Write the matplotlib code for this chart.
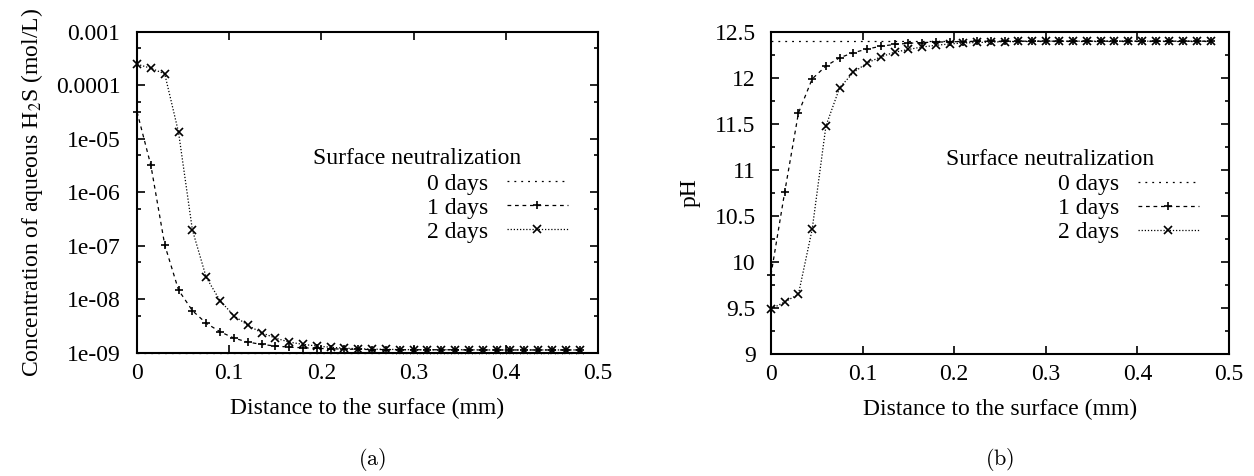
import numpy as np
import matplotlib
matplotlib.use('Agg')
import matplotlib.pyplot as plt
from matplotlib.ticker import FixedLocator, FuncFormatter, MultipleLocator

plt.rcParams['font.family'] = ['Liberation Serif', 'DejaVu Serif']
plt.rcParams['mathtext.fontset'] = 'stix'
plt.rcParams['font.size'] = 17

# distance to the surface (mm), 33 grid points
dist = [0.0, 0.015, 0.03, 0.045, 0.06, 0.075, 0.09, 0.105, 0.12, 0.135, 0.15,
        0.165, 0.18, 0.195, 0.21, 0.225, 0.24, 0.255, 0.27, 0.285, 0.30,
        0.315, 0.33, 0.345, 0.36, 0.375, 0.39, 0.405, 0.42, 0.435, 0.45,
        0.465, 0.48]
labels = ['0 days', '1 days', '2 days']

# aqueous H2S (mol/L)
h2s_0d = [1.0e-9] * 33
h2s_1d = [3.2e-5, 3.2e-6, 1.05e-7, 1.5e-8, 6.2e-9, 3.6e-9, 2.5e-9, 1.9e-9,
          1.6e-9, 1.45e-9, 1.35e-9, 1.29e-9, 1.25e-9, 1.22e-9, 1.2e-9,
          1.18e-9, 1.17e-9, 1.16e-9, 1.16e-9, 1.15e-9, 1.15e-9, 1.15e-9,
          1.15e-9, 1.15e-9, 1.14e-9, 1.14e-9, 1.14e-9, 1.14e-9, 1.14e-9,
          1.14e-9, 1.14e-9, 1.14e-9, 1.14e-9]
h2s_2d = [2.5e-4, 2.1e-4, 1.65e-4, 1.33e-5, 2.0e-7, 2.6e-8, 9.5e-9, 5.0e-9,
          3.3e-9, 2.4e-9, 1.9e-9, 1.6e-9, 1.45e-9, 1.35e-9, 1.28e-9,
          1.23e-9, 1.2e-9, 1.18e-9, 1.17e-9, 1.16e-9, 1.15e-9, 1.15e-9,
          1.15e-9, 1.15e-9, 1.15e-9, 1.14e-9, 1.14e-9, 1.14e-9, 1.14e-9,
          1.14e-9, 1.14e-9, 1.14e-9, 1.14e-9]

# pH
ph_0d = [12.4] * 33
ph_1d = [9.86, 10.76, 11.62, 11.99, 12.13, 12.22, 12.275, 12.315, 12.345,
         12.365, 12.377, 12.385, 12.39, 12.393, 12.396, 12.398, 12.4, 12.4,
         12.4, 12.4, 12.4, 12.4, 12.4, 12.4, 12.4, 12.4, 12.4, 12.4, 12.4,
         12.4, 12.4, 12.4, 12.4]
ph_2d = [9.49, 9.565, 9.65, 10.355, 11.478, 11.895, 12.06, 12.163, 12.23,
         12.28, 12.31, 12.337, 12.355, 12.37, 12.38, 12.386, 12.39, 12.394,
         12.397, 12.4, 12.4, 12.4, 12.4, 12.4, 12.4, 12.4, 12.4, 12.4, 12.4,
         12.4, 12.4, 12.4, 12.4]

styles = [dict(ls=(0, (1.5, 4)), marker=None),
          dict(ls=(0, (3, 3)), marker='+'),
          dict(ls=(0, (1, 1.5)), marker='x')]

fig = plt.figure(figsize=(12.54, 4.76), dpi=100)
ax1 = fig.add_axes([0.1093, 0.2584, 0.3676, 0.6744])
ax2 = fig.add_axes([0.6148, 0.2563, 0.3652, 0.6765])

gfmt = FuncFormatter(lambda v, p: '%g' % v)


def style_axes(ax):
    ax.set_xlim(0, 0.5)
    ax.xaxis.set_major_locator(MultipleLocator(0.1))
    ax.xaxis.set_major_formatter(gfmt)
    ax.tick_params(which='both', direction='in', top=True, right=True,
                   width=1.2)
    ax.tick_params(which='major', length=6)
    ax.tick_params(which='minor', length=3)
    ax.tick_params(axis='x', pad=7)
    for s in ax.spines.values():
        s.set_linewidth(1.5)
    ax.set_xlabel('Distance to the surface (mm)', labelpad=10)


def draw(ax, ys):
    for y, lab, st in zip(ys, labels, styles):
        ax.plot(dist, y, color='black', lw=0.9, ls=st['ls'],
                marker=st['marker'], ms=6, mew=1.2, label=lab, clip_on=False)
    ax.text(0.382, 0.605, 'Surface neutralization', transform=ax.transAxes,
            ha='left', va='center')
    ax.legend(loc='upper right', bbox_to_anchor=(0.935, 0.56), frameon=False,
              markerfirst=False, handlelength=2.6, labelspacing=0.1,
              borderpad=0, borderaxespad=0, handletextpad=0.8)


# (a) H2S
draw(ax1, [h2s_0d, h2s_1d, h2s_2d])
ax1.set_yscale('log')
ax1.set_ylim(1e-9, 1e-3)
ax1.yaxis.set_major_locator(FixedLocator([1e-9, 1e-8, 1e-7, 1e-6, 1e-5, 1e-4, 1e-3]))
ax1.yaxis.set_minor_locator(FixedLocator([5e-9, 5e-8, 5e-7, 5e-6, 5e-5, 5e-4]))
ax1.yaxis.set_major_formatter(gfmt)
ax1.yaxis.set_minor_formatter(FuncFormatter(lambda v, p: ''))
style_axes(ax1)
ax1.tick_params(axis='y', pad=12)
ax1.set_ylabel('Concentration of aqueous H$_2$S (mol/L)', labelpad=8)

# (b) pH
draw(ax2, [ph_0d, ph_1d, ph_2d])
ax2.set_ylim(9, 12.5)
ax2.yaxis.set_major_locator(MultipleLocator(0.5))
ax2.yaxis.set_minor_locator(MultipleLocator(0.25))
ax2.yaxis.set_major_formatter(gfmt)
style_axes(ax2)
ax2.tick_params(axis='y', pad=11)
ax2.set_ylabel('pH', labelpad=10)

fig.text(0.2966, 0.034, r'$\mathrm{(a)}$', math_fontfamily='cm', fontsize=16,
         ha='center', va='center')
fig.text(0.7974, 0.034, r'$\mathrm{(b)}$', math_fontfamily='cm', fontsize=16,
         ha='center', va='center')

fig.savefig('out.png', dpi=100)
